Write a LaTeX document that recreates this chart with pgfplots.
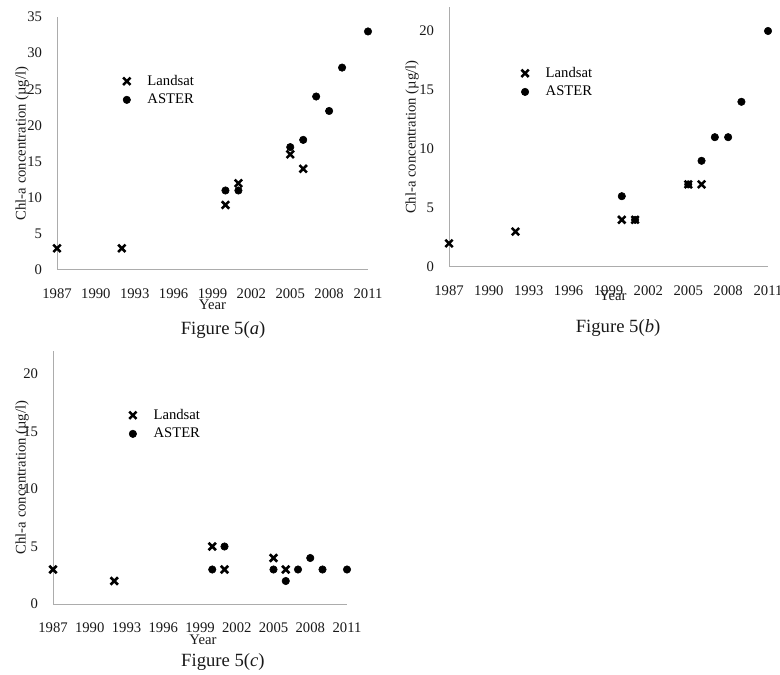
\documentclass[border=0pt]{standalone}
\usepackage{fontspec}
\setmainfont{Liberation Serif}
\usepackage{pgfplots}
\pgfplotsset{compat=1.18}
\pgfplotsset{
  chl/.style={
    scale only axis,
    anchor=south west,
    axis x line=bottom, axis y line=left,
    axis line style={draw=gray!65, line width=0.75pt, -},
    tick style={draw=none}, major tick length=0pt,
    xmin=1987, xmax=2011,
    xtick={1987,1990,...,2011},
    ymin=0,
    /pgf/number format/assume math mode=true,
    /pgf/number format/1000 sep={},
    tick label style={font=\fontsize{11}{13}\selectfont, inner sep=0pt, text=black!90},
    xticklabel style={anchor=center, yshift=-18pt},
    yticklabel style={anchor=east, xshift=-11pt},
    label style={font=\fontsize{11}{13}\selectfont, text=black!90},
    ylabel={Chl-a concentration (µg/l)},
    xlabel={Year},
    clip=false,
    legend style={draw=none, fill=none, font=\fontsize{11}{13}\selectfont, anchor=north west,
      nodes={inner sep=1pt}, row sep=3pt},
    legend cell align=left,
  },
  lsat/.style={only marks, mark=x, mark size=3.9pt, line width=1.9pt, color=black,
    mark options={draw=black, line width=1.9pt},
    legend image code/.code={\draw[##1, only marks] plot coordinates {(6pt,0pt)}; \path[draw=none, fill=none] (0pt,0pt) (20.5pt,0pt);}},
  aster/.style={only marks, mark=*, mark size=2.8pt, color=black,
    mark options={draw=black, fill=black, line width=0.4pt},
    legend image code/.code={\draw[##1, only marks] plot coordinates {(6pt,0pt)}; \path[draw=none, fill=none] (0pt,0pt) (20.5pt,0pt);}},
}
\begin{document}
\begin{tikzpicture}
% (a)
\begin{axis}[chl, at={(42.75pt,303pt)}, width=233.25pt, height=189.75pt,
  ymax=35, ytick={0,5,...,35},
  ylabel style={at={(axis description cs:-0.1125,0.5)}, anchor=center},
  xlabel style={at={(axis description cs:0.5,-0.138)}, anchor=center},
  legend style={at={(rel axis cs:0.185,0.787)}}]
\addplot[lsat] coordinates {(1987,3)(1992,3)(2000,9)(2001,12)(2005,16)(2006,14)};
\addlegendentry{Landsat}
\addplot[aster] coordinates {(2000,11)(2001,11)(2005,17)(2006,18)(2007,24)(2008,22)(2009,28)(2011,33)};
\addlegendentry{ASTER}
\node[font=\fontsize{14}{16}\selectfont, text=black!90] at (rel axis cs:0.534,-0.237) {Figure 5(\textit{a})};
\end{axis}
% (b)
\begin{axis}[chl, at={(336.75pt,305.25pt)}, width=239.25pt, height=194.7pt,
  ymax=22, ytick={0,5,...,20},
  ylabel style={at={(axis description cs:-0.116,0.5)}, anchor=center},
  xlabel style={at={(axis description cs:0.514,-0.112)}, anchor=center},
  legend style={at={(rel axis cs:0.2,0.786)}}]
\addplot[lsat] coordinates {(1987,2)(1992,3)(2000,4)(2001,4)(2005,7)(2006,7)};
\addlegendentry{Landsat}
\addplot[aster] coordinates {(2000,6)(2001,4)(2005,7)(2006,9)(2007,11)(2008,11)(2009,14)(2011,20)};
\addlegendentry{ASTER}
\node[font=\fontsize{14}{16}\selectfont, text=black!90] at (rel axis cs:0.53,-0.235) {Figure 5(\textit{b})};
\end{axis}
% (c)
\begin{axis}[chl, at={(39.75pt,52.5pt)}, width=220.5pt, height=189.75pt,
  ymax=22, ytick={0,5,...,20},
  ylabel style={at={(axis description cs:-0.105,0.5)}, anchor=center},
  xlabel style={at={(axis description cs:0.51,-0.142)}, anchor=center},
  legend style={at={(rel axis cs:0.23,0.787)}}]
\addplot[lsat] coordinates {(1987,3)(1992,2)(2000,5)(2001,3)(2005,4)(2006,3)};
\addlegendentry{Landsat}
\addplot[aster] coordinates {(2000,3)(2001,5)(2005,3)(2006,2)(2007,3)(2008,4)(2009,3)(2011,3)};
\addlegendentry{ASTER}
\node[font=\fontsize{14}{16}\selectfont, text=black!90] at (rel axis cs:0.578,-0.229) {Figure 5(\textit{c})};
\end{axis}
\pgfresetboundingbox
\path (0pt,0pt) rectangle (585pt,505.5pt);
\end{tikzpicture}
\end{document}
